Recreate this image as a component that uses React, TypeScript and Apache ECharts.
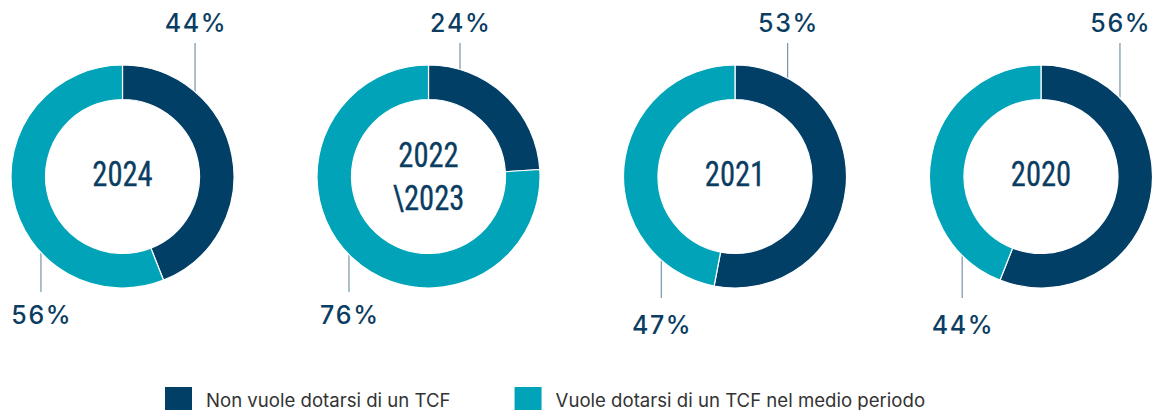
import React, { useEffect, useRef } from 'react';
import * as echarts from 'echarts';

// ---- data ----
const categories = ['Non vuole dotarsi di un TCF', 'Vuole dotarsi di un TCF nel medio periodo'];
const years = ['2024', '2022\n\\2023', '2021', '2020'];
const nonVuole = [44, 24, 53, 56];
const vuole = [56, 76, 47, 44];

// ---- layout / style ----
const DARK = '#023f66';
const TEAL = '#00a3b7';
const TEXT = '#0b3d62';
const LINE = '#5a7f98';
const CENTERS = [
  [122.5, 176.5],
  [428.5, 176.5],
  [735, 176.5],
  [1041, 176.5],
];
const R_IN = 77;
const R_OUT = 111.5;
// leader anchor angles (deg clockwise from top), bottom leader end and label gap
const LEADERS = [
  { top: 40.6, bottom: 227, bottomEnd: 292, gap: 23 },
  { top: 16.4, bottom: 225.5, bottomEnd: 292, gap: 23 },
  { top: 28.2, bottom: 221.4, bottomEnd: 298, gap: 27 },
  { top: 45.1, bottom: 225, bottomEnd: 298, gap: 27 },
];
const TOP_END = 43;

const spaced = (s: string) =>
  s
    .split('')
    .map((ch) => `{c|${ch}}`)
    .join('');

export default function App() {
  const ref = useRef<HTMLDivElement>(null);
  useEffect(() => {
    if (!ref.current) return;
    const chart = echarts.init(ref.current, undefined, { renderer: 'svg' });
    const series = years.map((y, i) => {
      const [cx, cy] = CENTERS[i];
      const L = LEADERS[i];
      return {
        type: 'pie',
        center: [cx, cy],
        radius: [R_IN, R_OUT],
        startAngle: 90,
        clockwise: true,
        silent: true,
        emphasis: { disabled: true },
        itemStyle: { borderColor: '#ffffff', borderWidth: 1.2 },
        label: {
          show: true,
          position: 'outside',
          width: 90,
          formatter: (p: any) => spaced(`${p.value}%`),
          rich: {
            c: {
              fontFamily: 'Inter, sans-serif',
              fontSize: 25,
              fontWeight: 500,
              color: TEXT,
              padding: [0, 0.8],
            },
          },
          fontFamily: 'Inter, sans-serif',
          fontSize: 25,
          color: TEXT,
        },
        labelLine: { show: true, lineStyle: { color: LINE, width: 1 } },
        labelLayout: (p: any) => {
          const isTop = p.dataIndex === 0;
          const a = ((isTop ? L.top : L.bottom) * Math.PI) / 180;
          const ax = cx + R_OUT * Math.sin(a);
          const ay = cy - R_OUT * Math.cos(a);
          const ey = isTop ? TOP_END : L.bottomEnd;
          const ly = isTop ? ey - 20 : ey + L.gap;
          return {
            x: ax,
            y: ly,
            align: 'center',
            verticalAlign: 'middle',
            labelLinePoints: [
              [ax, ay],
              [ax, ey],
              [ax, ey],
            ],
          };
        },
        data: [
          { name: categories[0], value: nonVuole[i], itemStyle: { color: DARK } },
          { name: categories[1], value: vuole[i], itemStyle: { color: TEAL } },
        ],
      };
    });
    chart.setOption({
      animation: false,
      color: [DARK, TEAL],
      legend: {
        data: categories,
        left: 163,
        top: 385,
        padding: 0,
        icon: 'rect',
        itemWidth: 29,
        itemHeight: 28,
        itemGap: 62,
        selectedMode: false,
        textStyle: {
          fontFamily: 'Inter, sans-serif',
          fontSize: 18.6,
          color: '#333333',
          padding: [0, 0, 0, 8],
        },
      },
      graphic: years.map((y, i) => ({
        type: 'text',
        x: CENTERS[i][0],
        y: CENTERS[i][1] - (y.includes('\n') ? 0.5 : 3),
        scaleX: 0.85,
        silent: true,
        style: {
          text: y,
          fill: TEXT,
          stroke: TEXT,
          lineWidth: 0.35,
          fontFamily: "'Roboto Condensed', sans-serif",
          fontSize: 36,
          fontWeight: 'normal',
          lineHeight: 43,
          textAlign: 'center',
          textVerticalAlign: 'middle',
        },
      })),
      series,
    });
    return () => chart.dispose();
  }, []);
  return (
    <div
      ref={ref}
      style={{ position: 'absolute', left: 0, top: 0, width: 1153, height: 410 }}
    />
  );
}
